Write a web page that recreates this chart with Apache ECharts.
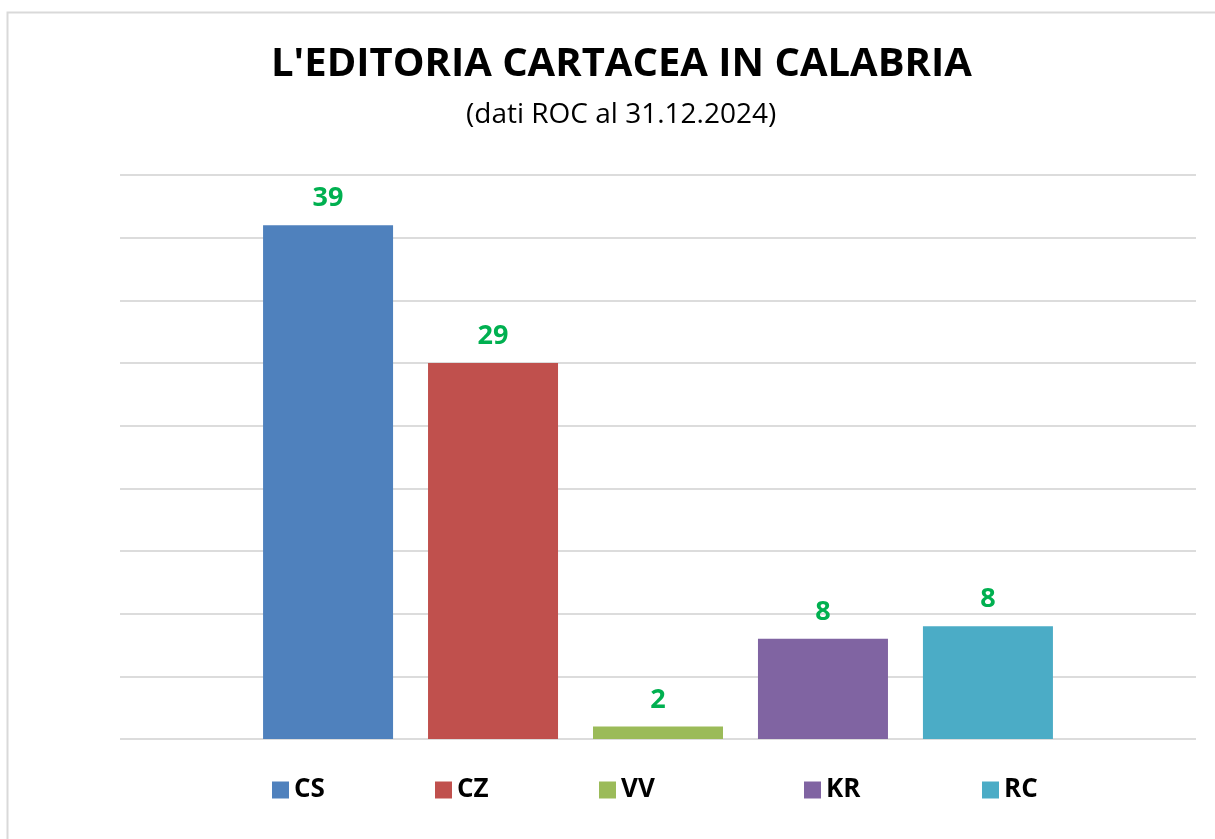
<!DOCTYPE html>
<head>
    <meta charset="utf-8">
    <title>L'editoria cartacea in Calabria</title>
    <style>
        html, body { margin: 0; padding: 0; background: #fff; }
        #chart { width: 1215px; height: 839px; }
    </style>
</head>
<body>
    <div id="chart"></div>

    <script src="https://cdn.jsdelivr.net/npm/echarts@6/dist/echarts.min.js"></script>
    <script type="text/javascript">

    // data
    var provinces = ['CS', 'CZ', 'VV', 'KR', 'RC'];
    var barValues = [41, 30, 1, 8, 9];            // bar heights
    var barLabels = ['39', '29', '2', '8', '8'];  // numbers written above the bars
    var colors = ['#4f81bd', '#c0504d', '#9bbb59', '#8064a2', '#4bacc6'];
    var legendLeft = [267, 430, 594, 799, 977];

    var font = '"Open Sans", "Noto Sans", sans-serif';

    var myChart = echarts.init(document.getElementById('chart'));

    var series = provinces.map(function (p, i) {
        var d = [];
        d[0] = barValues[i];
        return {
            name: p,
            type: 'bar',
            data: d,
            barWidth: 130,
            barGap: '26.9%',
            itemStyle: { color: colors[i] },
            label: {
                show: true,
                position: 'top',
                distance: 13,
                formatter: function () { return barLabels[i]; },
                color: '#00b050',
                fontFamily: font,
                fontWeight: 'bold',
                fontSize: 27
            }
        };
    });

    var legends = provinces.map(function (p, i) {
        return {
            data: [p],
            left: legendLeft[i],
            top: 772,
            itemWidth: 17,
            itemHeight: 17,
            itemGap: 8,
            icon: 'rect',
            selectedMode: false,
            textStyle: {
                color: '#000',
                fontFamily: font,
                fontWeight: 'bold',
                fontSize: 26,
                padding: [0, 0, 0, 0]
            }
        };
    });

    myChart.setOption({
        animation: false,
        color: colors,
        title: [
            {
                text: "L'EDITORIA CARTACEA IN CALABRIA",
                left: 266,
                top: 40,
                textStyle: { color: '#000', fontFamily: font, fontWeight: 'bold', fontSize: 40 }
            },
            {
                text: '(dati ROC al 31.12.2024)',
                left: 461,
                top: 96,
                textStyle: { color: '#000', fontFamily: font, fontWeight: 'normal', fontSize: 28 }
            }
        ],
        graphic: [
            {
                type: 'rect',
                shape: { x: 7.5, y: 12.5, width: 1230, height: 850 },
                style: { fill: 'none', stroke: '#d9d9d9', lineWidth: 2 },
                silent: true
            }
        ],
        legend: legends,
        grid: {
            left: 120,
            right: 19,
            top: 175,
            bottom: 100
        },
        xAxis: {
            type: 'category',
            data: [''],
            axisLine: { show: false },
            axisTick: { show: false },
            axisLabel: { show: false }
        },
        yAxis: {
            type: 'value',
            min: 0,
            max: 45,
            interval: 5,
            axisLabel: { show: false },
            axisLine: { show: false },
            axisTick: { show: false },
            splitLine: { lineStyle: { color: '#dcdcdc', width: 2 } }
        },
        series: series
    });

    </script>
</body>
